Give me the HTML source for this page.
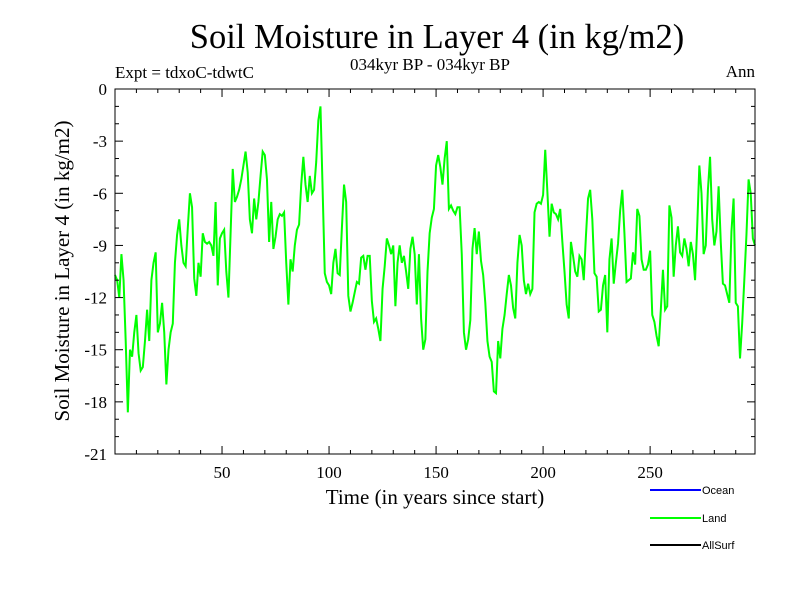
<!DOCTYPE html>
<html><head><meta charset="utf-8"><style>
body{margin:0;background:#fff}
svg{display:block}
text{font-family:"Liberation Serif",serif;fill:#000}
</style></head><body>
<svg id="chart" width="800" height="600">
<rect width="800" height="600" fill="#fff"/>
<text x="437" y="48" font-size="34.5" text-anchor="middle">Soil Moisture in Layer 4 (in kg/m2)</text>
<text x="430" y="70" font-size="17" text-anchor="middle">034kyr BP - 034kyr BP</text>
<text x="115" y="78" font-size="17">Expt = tdxoC-tdwtC</text>
<text x="755" y="77" font-size="17" text-anchor="end">Ann</text>
<g id="plot"></g>
<text x="435" y="504" font-size="21" text-anchor="middle">Time (in years since start)</text>
<text transform="translate(69,271) rotate(-90)" font-size="21" text-anchor="middle">Soil Moisture in Layer 4 (in kg/m2)</text>
<g>
<line x1="650" y1="490" x2="701" y2="490" stroke="#0000ff" stroke-width="2"/>
<text x="702" y="494" font-size="11" style="font-family:'Liberation Sans',sans-serif">Ocean</text>
<line x1="650" y1="518" x2="701" y2="518" stroke="#00ff00" stroke-width="2"/>
<text x="702" y="522" font-size="11" style="font-family:'Liberation Sans',sans-serif">Land</text>
<line x1="650" y1="545" x2="701" y2="545" stroke="#000" stroke-width="2"/>
<text x="702" y="549" font-size="11" style="font-family:'Liberation Sans',sans-serif">AllSurf</text>
</g>
</svg>
<script>
const landValues = [-10.7,-11,-12,-9.5,-11,-14.5,-18.6,-15,-15.4,-14,-13,-15.2,-16.2,-16,-14.5,-12.7,-14.5,-11,-10,-9.4,
-14,-13.5,-12.3,-14,-17,-15,-14,-13.5,-10,-8.4,-7.5,-9,-10,-10.2,-8,-6,-6.8,-10.9,-11.9,-10,
-10.8,-8.3,-8.8,-8.9,-8.8,-9,-9.6,-6.5,-11.3,-8.6,-8.3,-8.1,-10.5,-12,-8.3,-4.6,-6.5,-6.2,-5.8,-5.2,
-4.4,-3.6,-4.8,-7.5,-8.3,-6.3,-7.5,-6.5,-5,-3.6,-3.8,-5.2,-8.8,-6.5,-9.2,-8.5,-7.5,
-7.2,-7.3,-7.1,-10,-12.4,-9.8,-10.5,-9,-8.1,-7.8,-5.5,-3.9,-5.5,-6.5,-5,-6,-5.8,-4.2,-1.8,-1,
-5.8,-10.6,-11.1,-11.3,-11.8,-10,-9.2,-10.6,-10.7,-8,-5.5,-6.5,-11.9,-12.8,-12.3,-11.7,-11.1,-11.2,-9.7,-9.6,
-10.4,-9.6,-9.6,-12.2,-13.4,-13.2,-13.8,-14.5,-11.5,-10.2,-8.6,-9,-9.5,-9,-12.5,-10,-9,-10,-9.6,-10.5,
-11.5,-9.2,-8.5,-9.5,-12.4,-9.5,-13.2,-15,-14.4,-10.5,-8.3,-7.4,-6.9,-4.4,-3.8,
-4.5,-5.5,-4,-3,-6.9,-6.7,-7,-7.2,-6.8,-6.8,-9.5,-14,-15,-14.4,-13.3,-9.2,-8,-9.5,-8.2,-9.9,
-10.7,-12.3,-14.5,-15.4,-15.7,-17.4,-17.5,-14.5,-15.5,-13.8,-13,-11.8,-10.7,-11.3,-12.6,-13.2,-10,-8.4,-9,-11,
-11.8,-11.2,-11.8,-11.5,-7.1,-6.6,-6.5,-6.6,-6.1,-3.5,-5.9,-8.5,-6.6,-7.1,-7.2,-7.5,-6.9,-8.8,-10.5,-12.4,
-13.2,-8.8,-9.6,-10.5,-10.8,-9.6,-9.8,-11,-8.5,-6.3,-5.8,-7.5,-10.6,-10.8,-12.8,
-12.7,-11.3,-10.7,-14,-9.8,-8.6,-11.2,-10,-8.9,-7,-5.8,-8.3,-11.1,-11,-10.9,-9.4,-10.1,-6.9,-7.3,-9.8,
-10.4,-10.4,-10.1,-9.3,-13,-13.4,-14.2,-14.8,-12.7,-10.4,-12.7,-12.5,-6.7,-7.4,-10.8,-9,-7.9,-9.4,-9.6,-8.6,
-9.2,-10.2,-8.8,-9.5,-11,-7.9,-4.4,-6,-9.5,-9,-5.8,-3.9,-7.5,-9,-8.2,-5.6,-8.8,-11.2,-11.3,-11.8,
-12.3,-8.2,-6.3,-12.3,-12.5,-15.5,-13.5,-11,-8.4,-5.2,-6,-8.6,-9];
const startYear = 0;
const xTickLabels = [50,100,150,200,250];
const yTickLabels = [0,-3,-6,-9,-12,-15,-18,-21];

const L=115,R=755,T=89,B=454, XMIN=0, XMAX=299, YMIN=-21, YMAX=0;
const xs = v => L + (v-XMIN)/(XMAX-XMIN)*(R-L);
const ys = v => B - (v-YMIN)/(YMAX-YMIN)*(B-T);
const NS="http://www.w3.org/2000/svg";
const g=document.getElementById('plot');
function mk(tag,attrs){const e=document.createElementNS(NS,tag);for(const k in attrs)e.setAttribute(k,attrs[k]);g.appendChild(e);return e;}

let d='';
landValues.forEach((v,i)=>{d+=(i?'L':'M')+xs(startYear+i).toFixed(2)+','+ys(v).toFixed(2);});
const line=mk('path',{d:d,fill:'none',stroke:'#00ff00','stroke-width':2,'stroke-linejoin':'miter'});



const frame=mk('rect',{x:L,y:T,width:R-L,height:B-T,fill:'none',stroke:'#000','stroke-width':1});



for(let t=10;t<XMAX;t+=10){
  const len = t%50===0?8:4, x=xs(t);
  mk('line',{x1:x,y1:B,x2:x,y2:B-len,stroke:'#000'});
  mk('line',{x1:x,y1:T,x2:x,y2:T+len,stroke:'#000'});
}
xTickLabels.forEach(t=>{
  const tx=mk('text',{x:xs(t),y:B+24,'font-size':17,'text-anchor':'middle'});
  tx.textContent=t;
  
  
});
for(let v=-20;v<0;v++){
  const len = v%3===0?8:4, y=ys(v);
  mk('line',{x1:L,y1:y,x2:L+len,y2:y,stroke:'#000'});
  mk('line',{x1:R,y1:y,x2:R-len,y2:y,stroke:'#000'});
}
yTickLabels.forEach(v=>{
  const tx=mk('text',{x:L-8,y:ys(v)+6,'font-size':17,'text-anchor':'end'});
  tx.textContent=v;
  
  
});
</script>
</body></html>
